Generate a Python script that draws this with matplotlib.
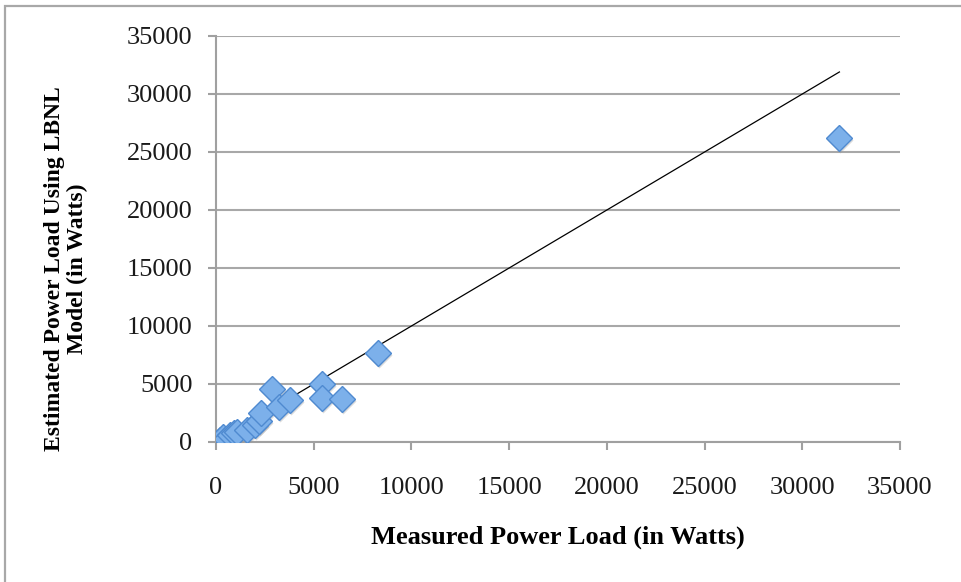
import matplotlib
matplotlib.use("Agg")
import matplotlib.pyplot as plt
import matplotlib.transforms as mtransforms
from matplotlib.patches import Rectangle

# Data (Watts)
measured = [200, 350, 500, 700, 900, 1100, 1600, 2000, 2200, 2300, 2850, 3200, 3800, 5400, 5400, 6450, 8300, 31900]
estimated = [150, 400, 300, 600, 750, 900, 1050, 1500, 1800, 2500, 4600, 3000, 3600, 5000, 3800, 3700, 7650, 26200]
line_x = [0, 31900]
line_y = [0, 31900]
ticks = [0, 5000, 10000, 15000, 20000, 25000, 30000, 35000]

plt.rcParams['font.family'] = ['Liberation Serif', 'DejaVu Serif']

fig = plt.figure(figsize=(9.61, 5.82), dpi=100)
ax = fig.add_axes([216/961, 1 - 442/582, (900-216)/961, (442-36)/582])

# outer frame (top and left visible)
fig.patches.append(Rectangle((5/961, -0.05), 1.05, 1 - 6/582 + 0.05, transform=fig.transFigure,
                             fill=False, edgecolor='#a8a8a8', linewidth=1.6, zorder=0))

ax.plot(line_x, line_y, color='black', linewidth=0.9, zorder=2)

shadow = ax.transData + mtransforms.ScaledTranslation(1/100, -2/100, fig.dpi_scale_trans)
ax.plot(measured, estimated, linestyle='none', marker='D', markersize=13,
        markerfacecolor='#9a9a9a', markeredgecolor='none', alpha=0.35, transform=shadow, zorder=3)
ax.plot(measured, estimated, linestyle='none', marker='D', markersize=13,
        markerfacecolor='#7cb0ea', markeredgecolor='#4f8ad0', markeredgewidth=1.0, zorder=4)

ax.set_xlim(0, 35000)
ax.set_ylim(0, 35000)
ax.set_xticks(ticks)
ax.set_yticks(ticks)
ax.set_xticklabels([str(t) for t in ticks])
ax.set_yticklabels([str(t) for t in ticks])
ax.tick_params(axis='both', labelsize=19, colors='#a0a0a0', labelcolor='#1a1a1a', length=6, width=1.5)
ax.tick_params(axis='x', pad=19)
ax.tick_params(axis='y', pad=11)

ax.yaxis.grid(True, color='#a8a8a8', linewidth=1.5)
ax.set_axisbelow(True)
for s in ['top', 'right']:
    ax.spines[s].set_visible(False)
for s in ['left', 'bottom']:
    ax.spines[s].set_color('#a0a0a0')
    ax.spines[s].set_linewidth(1.5)

ax.set_xlabel('Measured Power Load (in Watts)', fontsize=19, fontweight='bold', va='center')
ax.xaxis.set_label_coords(0.5, (442 - 537) / 406)
ax.set_ylabel('Estimated Power Load Using LBNL\nModel (in Watts)', fontsize=17, fontweight='bold',
              linespacing=1.1, va='center', ha='center')
ax.yaxis.set_label_coords((66 - 216) / 684, (442 - 269) / 406)

fig.savefig('out.png', dpi=100)
